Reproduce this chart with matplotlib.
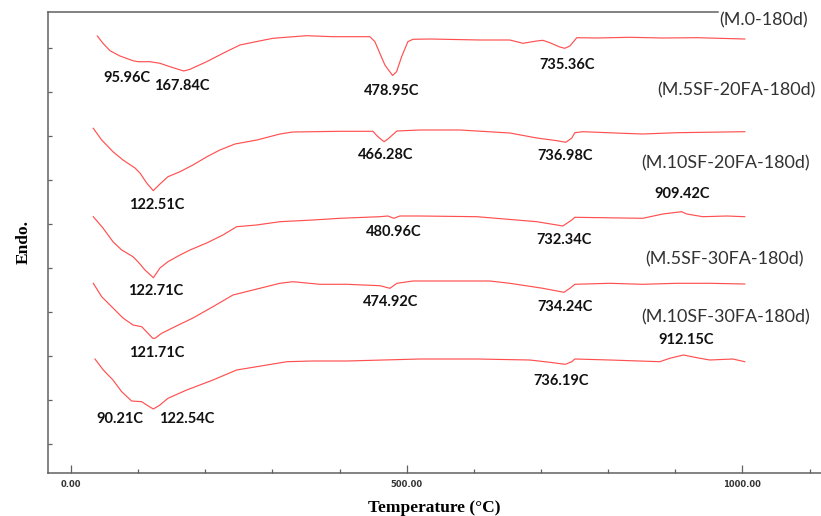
import matplotlib
matplotlib.use("Agg")
import matplotlib.pyplot as plt
import numpy as np

# DTA curves, temperature (C) vs. stacked signal (arbitrary units)
t_m0 = [39.2, 47.6, 58.1, 72.9, 92.3, 99.7, 117.6, 132.5, 147.4, 167.84, 177.2, 202.0, 226.3, 251.6,
        271.0, 300.7, 350.9, 390.1, 445.2, 452.6, 460.0, 467.5, 478.95, 484.9, 492.4, 501.7, 509.2,
        534.5, 609.0, 653.6, 673.0, 693.8, 702.7, 713.1, 728.0, 735.36, 743.0, 753.3, 783.1, 832.2,
        881.4, 932.0, 1003.5]
s_m0 = [43.70, 42.97, 42.23, 41.70, 41.23, 41.13, 41.13, 40.97, 40.63, 40.20, 40.37, 41.13, 41.97, 42.80,
        43.07, 43.47, 43.73, 43.63, 43.63, 43.13, 41.97, 40.80, 39.75, 40.13, 41.63, 43.13, 43.37,
        43.40, 43.30, 43.30, 42.97, 43.20, 43.27, 43.03, 42.60, 42.47, 42.70, 43.53, 43.50, 43.57,
        43.50, 43.53, 43.40]

t_5sf20 = [33.2, 45.7, 62.5, 77.4, 95.3, 102.7, 112.7, 122.51, 132.5, 144.4, 162.3, 181.6, 202.5, 221.8,
           244.2, 276.9, 311.2, 330.5, 400.5, 449.6, 457.1, 466.28, 472.0, 485.4, 519.6, 579.1, 653.6,
           693.8, 723.6, 736.98, 745.9, 750.4, 762.3, 821.8, 851.6, 902.2, 1003.5]
s_5sf20 = [34.47, 33.30, 32.13, 31.30, 30.50, 30.00, 29.00, 28.23, 28.90, 29.63, 30.13, 30.80, 31.63, 32.30,
           32.90, 33.30, 33.90, 34.10, 34.17, 34.17, 33.63, 33.13, 33.40, 34.20, 34.30, 34.30, 34.00,
           33.50, 33.23, 33.07, 33.50, 34.03, 34.13, 33.97, 33.90, 34.03, 34.13]

t_10sf20 = [33.2, 47.6, 62.5, 75.5, 92.3, 99.7, 110.2, 122.71, 132.5, 144.4, 162.3, 177.2, 202.0, 226.3,
            246.7, 276.5, 311.2, 360.3, 400.5, 460.0, 472.0, 480.96, 489.8, 519.6, 604.5, 693.8, 723.6,
            732.34, 745.9, 750.4, 851.6, 881.4, 909.42, 917.1, 940.9, 976.6, 1003.5]
s_10sf20 = [25.63, 24.50, 23.13, 22.30, 21.63, 21.13, 20.30, 19.53, 20.50, 21.13, 21.80, 22.30, 23.00, 23.80,
            24.63, 24.80, 25.13, 25.30, 25.47, 25.63, 25.70, 25.47, 25.70, 25.70, 25.63, 25.13, 24.80,
            24.70, 25.30, 25.57, 25.47, 25.90, 26.13, 25.90, 25.63, 25.70, 25.63]

t_5sf30 = [33.2, 45.7, 62.5, 77.4, 92.3, 105.3, 121.71, 125.1, 135.0, 154.8, 181.6, 211.4, 241.2, 271.0,
           311.2, 330.5, 370.7, 410.9, 460.0, 474.92, 485.4, 509.2, 623.8, 653.6, 702.7, 734.24, 743.0,
           750.4, 802.5, 851.6, 902.2, 951.3, 1003.5]
s_5sf30 = [18.97, 17.63, 16.50, 15.50, 14.80, 14.63, 13.47, 13.47, 13.97, 14.63, 15.50, 16.63, 17.80, 18.30,
           18.97, 19.13, 18.87, 18.87, 18.73, 18.47, 18.97, 19.20, 19.20, 18.97, 18.47, 18.07, 18.47,
           18.87, 18.97, 18.87, 18.97, 18.97, 18.90]

t_10sf30 = [35.7, 48.1, 62.5, 75.5, 90.21, 105.3, 112.7, 122.54, 132.5, 144.4, 172.3, 211.4, 246.7, 276.5,
            321.6, 360.3, 410.9, 519.6, 604.5, 683.4, 713.1, 736.19, 745.9, 750.4, 802.5, 876.9, 891.8,
            912.15, 932.0, 951.3, 985.6, 1003.5]
s_10sf30 = [11.40, 10.30, 9.30, 8.13, 7.20, 7.13, 6.80, 6.40, 6.80, 7.47, 8.30, 9.30, 10.30, 10.63,
            11.13, 11.20, 11.20, 11.40, 11.40, 11.30, 11.07, 10.87, 11.13, 11.40, 11.30, 11.13, 11.47,
            11.80, 11.53, 11.30, 11.40, 11.13]

curves = [(t_m0, s_m0), (t_5sf20, s_5sf20), (t_10sf20, s_10sf20), (t_5sf30, s_5sf30), (t_10sf30, s_10sf30)]

sample_names = ["(M.0-180d)", "(M.5SF-20FA-180d)", "(M.10SF-20FA-180d)", "(M.5SF-30FA-180d)", "(M.10SF-30FA-180d)"]
name_pos = [(966, 45.3), (873, 38.3), (850, 31.0), (855, 21.4), (850, 15.6)]

# peak temperatures and where their labels sit
peak_temps = [95.96, 167.84, 478.95, 735.36,
              122.51, 466.28, 736.98, 909.42,
              122.71, 480.96, 732.34,
              121.71, 474.92, 734.24, 912.15,
              90.21, 122.54, 736.19]
peak_label_pos = [(82.9, 39.47), (165.7, 38.7), (477.9, 38.23), (738.4, 40.8),
                  (127.6, 26.8), (469.0, 31.8), (736.5, 31.73), (909.7, 27.9),
                  (126.5, 18.2), (480.9, 24.13), (735.0, 23.3),
                  (127.6, 11.97), (476.4, 17.13), (736.5, 16.63), (915.6, 13.3),
                  (73.0, 5.4), (172.7, 5.4), (730.6, 9.2)]

x_ticks = [0, 500, 1000]
x_ticklabels = ["0.00", "500.00", "1000.00"]
y_ticks = [2.9, 7.3, 11.7, 16.1, 20.5, 24.9, 29.3, 33.7, 38.1, 42.5]

fig = plt.figure(figsize=(8.21, 5.16), dpi=100)
ax = fig.add_axes([47.5 / 821, 43 / 516, 773.5 / 821, 461 / 516])

for t, s in curves:
    ax.plot(t, s, color="#ff5050", lw=0.85)

for temp, (x, y) in zip(peak_temps, peak_label_pos):
    ax.text(x, y, "%.2fC" % temp, ha="center", va="center", fontsize=10.5,
            fontweight="bold", family="Lato", color="#111111")

for name, (x, y) in zip(sample_names, name_pos):
    ax.text(x, y, name, ha="left", va="center", fontsize=13, family="Lato",
            color="#333333", clip_on=False)

ax.set_xlim(-35, 1117)
ax.set_ylim(0, 46.1)

axis_col = "#606060"
ax.spines["right"].set_visible(False)
ax.spines["top"].set_bounds(-35, 963)
for side in ["left", "bottom", "top"]:
    ax.spines[side].set_color(axis_col)
    ax.spines[side].set_linewidth(1.1)

ax.set_xticks(x_ticks)
ax.set_xticklabels(x_ticklabels)
ax.set_xticks(np.arange(100, 1101, 100), minor=True)
ax.set_yticks(y_ticks)
ax.set_yticklabels([])
ax.tick_params(axis="x", which="major", direction="in", length=6, width=0.9, color=axis_col,
               labelsize=6, labelcolor="#333333", pad=5)
ax.tick_params(axis="x", which="minor", direction="in", length=3, width=0.9, color=axis_col)
ax.tick_params(axis="y", direction="in", length=3, width=0.9, color=axis_col)
for lab in ax.get_xticklabels():
    lab.set_fontweight("bold")

ax.set_xlabel("Temperature (\u00b0C)", family="Liberation Serif", fontweight="bold", fontsize=12.5, labelpad=8)
ax.set_ylabel("Endo.", family="Liberation Serif", fontweight="bold", fontsize=12.5, labelpad=8)

plt.savefig("out.png", dpi=100)
